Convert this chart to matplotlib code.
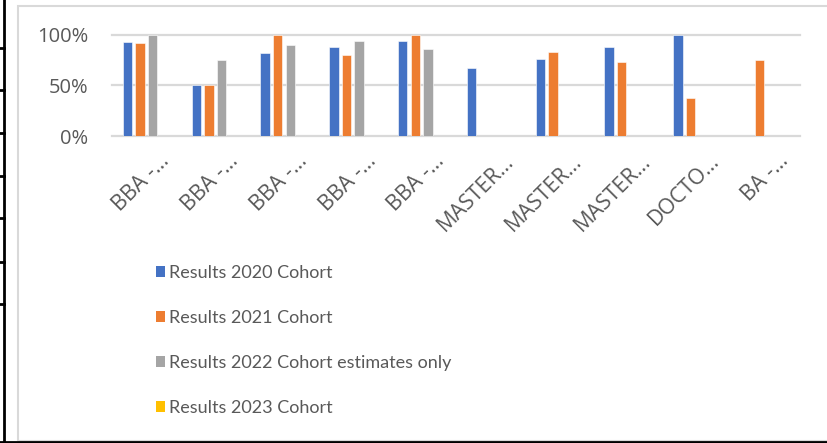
import matplotlib
matplotlib.use("Agg")
import matplotlib.pyplot as plt
import matplotlib.transforms as mtransforms
from matplotlib.patches import Patch, Rectangle
from matplotlib.lines import Line2D
import numpy as np

categories = ["BBA -…", "BBA -…", "BBA -…", "BBA -…", "BBA -…",
              "MASTER…", "MASTER…", "MASTER…", "DOCTO…", "BA -…"]
series_names = ["Results 2020 Cohort", "Results 2021 Cohort",
                "Results 2022 Cohort estimates only", "Results 2023 Cohort"]
r2020 = [0.93, 0.50, 0.82, 0.88, 0.94, 0.67, 0.76, 0.88, 1.00, np.nan]
r2021 = [0.92, 0.50, 1.00, 0.80, 1.00, np.nan, 0.83, 0.73, 0.38, 0.75]
r2022 = [1.00, 0.75, 0.90, 0.94, 0.86, np.nan, np.nan, np.nan, np.nan, np.nan]
r2023 = [np.nan] * 10
yticks = [0, 0.5, 1.0]
ytick_labels = ["0%", "50%", "100%"]

colors = ["#4472C4", "#ED7D31", "#A5A5A5", "#FFC000"]

W, H = 828, 443
fig = plt.figure(figsize=(W / 100, H / 100), dpi=100)
fig.patch.set_facecolor("white")

ax = fig.add_axes([112 / W, (H - 136) / H, (800 - 112) / W, (136 - 35) / H])
x = np.arange(len(categories))
slot = 0.183
bw = 0.138
for i, (vals, c) in enumerate(zip([r2020, r2021, r2022, r2023], colors)):
    ax.bar(x + (i - 1.5) * slot, vals, width=bw, color=c, zorder=3,
           edgecolor="white", linewidth=0.4)

ax.set_xlim(-0.5, len(categories) - 0.5)
ax.set_ylim(0, 1.0)
ax.set_yticks(yticks)
ax.set_yticklabels(ytick_labels)
for s in ax.spines.values():
    s.set_visible(False)
for yv in yticks:
    ax.axhline(yv, color="#D9D9D9", lw=1.6, zorder=1, clip_on=False)
ax.tick_params(axis="y", length=0, pad=17, labelsize=14.5, labelcolor="#595959")
ax.tick_params(axis="x", length=0, pad=16, labelsize=15.5, labelcolor="#595959")
for lab in ax.get_yticklabels():
    lab.set_family(["Open Sans", "DejaVu Sans"])
ax.set_xticks(x)
ax.set_xticklabels(categories, rotation=45, ha="right", va="center",
                   rotation_mode="anchor", family=["Open Sans", "DejaVu Sans"])
off = mtransforms.ScaledTranslation(20 / 100, 0, fig.dpi_scale_trans)
for lab in ax.get_xticklabels():
    lab.set_transform(lab.get_transform() + off)

handles = [Patch(facecolor=c, edgecolor="none") for c in colors]
fig.legend(handles, series_names, loc="upper left",
           bbox_to_anchor=(156 / W, 1 - 265 / H), frameon=False,
           prop={"family": ["Lato", "DejaVu Sans"], "size": 13},
           handlelength=0.52, handleheight=0.52, handletextpad=0.2,
           labelspacing=1.6, labelcolor="#595959", borderaxespad=0, borderpad=0)

# chart frame and surrounding page lines
fig.add_artist(Rectangle((18 / W, 1 - 441 / H), (830 - 18) / W, (441 - 6) / H,
                         transform=fig.transFigure, fill=False,
                         edgecolor="#D9D9D9", lw=1.5))
fig.add_artist(Line2D([4 / W, 4 / W], [0, 1], transform=fig.transFigure,
                      color="black", lw=2))
fig.add_artist(Line2D([0, 828 / W], [1 - 442 / H, 1 - 442 / H],
                      transform=fig.transFigure, color="black", lw=2))
for ty in [48, 90, 133, 176, 218, 262, 304]:
    fig.add_artist(Line2D([0, 4 / W], [1 - ty / H, 1 - ty / H],
                          transform=fig.transFigure, color="black", lw=2))

fig.savefig("out.png", dpi=100)
